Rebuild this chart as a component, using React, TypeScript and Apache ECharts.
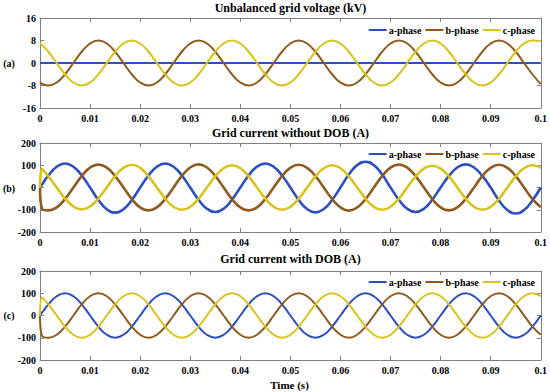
import React, { useEffect, useRef } from "react";
import * as echarts from "echarts";

// sample times (s)
const T = [
  0, 0.0004, 0.00167, 0.00333, 0.005, 0.00667, 0.00833, 0.01, 0.01167, 0.01333, 0.015, 0.01667, 0.01833, 0.02,
  0.02167, 0.02333, 0.025, 0.02667, 0.02833, 0.03, 0.03167, 0.03333, 0.035, 0.03667, 0.03833, 0.04,
  0.04167, 0.04333, 0.045, 0.04667, 0.04833, 0.05, 0.05167, 0.05333, 0.055, 0.05667, 0.05833, 0.06,
  0.06167, 0.06333, 0.065, 0.06667, 0.06833, 0.07, 0.07167, 0.07333, 0.075, 0.07667, 0.07833, 0.08,
  0.08167, 0.08333, 0.085, 0.08667, 0.08833, 0.09, 0.09167, 0.09333, 0.095, 0.09667, 0.09833, 0.1,
];

const X_TICKS = ["0", "0.01", "0.02", "0.03", "0.04", "0.05", "0.06", "0.07", "0.08", "0.09", "0.1"];
const TITLES = ["Unbalanced grid voltage (kV)", "Grid current without DOB (A)", "Grid current with DOB (A)"];
const PANEL_LABELS = ["(a)", "(b)", "(c)"];
const PHASES = ["a-phase", "b-phase", "c-phase"];

// (a) Unbalanced grid voltage (kV)
const VOLT_A = [
  0, 0,
  0, 0, 0, 0, 0, 0, 0, 0, 0, 0, 0, 0,
  0, 0, 0, 0, 0, 0, 0, 0, 0, 0, 0, 0,
  0, 0, 0, 0, 0, 0, 0, 0, 0, 0, 0, 0,
  0, 0, 0, 0, 0, 0, 0, 0, 0, 0, 0, 0,
  0, 0, 0, 0, 0, 0, 0, 0, 0, 0, 0, 0,
];
const VOLT_B = [
  -6.93, -7.38,
  -8, -6.93, -4, 0, 4, 6.93, 8, 6.93, 4, 0, -4, -6.93,
  -8, -6.93, -4, 0, 4, 6.93, 8, 6.93, 4, 0, -4, -6.93,
  -8, -6.93, -4, 0, 4, 6.93, 8, 6.93, 4, 0, -4, -6.93,
  -8, -6.93, -4, 0, 4, 6.93, 8, 6.93, 4, 0, -4, -6.93,
  -8, -6.93, -4, 0, 4, 6.93, 8, 6.93, 4, 0, -4, -7.5,
];
const VOLT_C = [
  6.93, 6.37,
  4, 0, -4, -6.93, -8, -6.93, -4, 0, 4, 6.93, 8, 6.93,
  4, 0, -4, -6.93, -8, -6.93, -4, 0, 4, 6.93, 8, 6.93,
  4, 0, -4, -6.93, -8, -6.93, -4, 0, 4, 6.93, 8, 6.93,
  4, 0, -4, -6.93, -8, -6.93, -4, 0, 4, 6.93, 8, 6.93,
  4, 0, -4, -6.93, -8, -6.93, -4, 0, 4, 6.93, 8, 7.8,
];

// (b) Grid current without DOB (A)
const CUR1_A = [
  0, 13,
  54, 93.5, 108, 93.5, 54, 0, -56.5, -97.9, -113, -97.9, -56.5, 0,
  54, 93.5, 108, 93.5, 54, 0, -55, -95.3, -110, -95.3, -55, 0,
  54, 93.5, 108, 93.5, 54, 0, -56, -97, -112, -97, -56, 0,
  58, 100.5, 116, 100.5, 58, 0, -55, -95.3, -110, -95.3, -55, 0,
  52, 90, 104, 90, 52, 0, -58.5, -101.3, -117, -101.3, -58.5, 0,
];
const CUR1_B = [
  0, -95,
  -103, -89.2, -51.5, 0, 51.5, 89.2, 103, 89.2, 51.5, 0, -51.5, -89.2,
  -103, -89.2, -51.5, 0, 52, 90, 104, 90, 52, 0, -51.5, -89.2,
  -103, -89.2, -51.5, 0, 51, 88.3, 102, 88.3, 51, 0, -51.5, -89.2,
  -104, -90, -52, 0, 51.5, 89.2, 103, 89.2, 51.5, 0, -51.5, -89.2,
  -103, -89.2, -51.5, 0, 51, 88.3, 102, 88.3, 51, 0, -51.5, -89.2,
];
const CUR1_C = [
  0, 83,
  50, 0, -49, -84.9, -98, -84.9, -49, 0, 51, 88.3, 102, 88.3,
  50, 0, -50, -86.6, -100, -86.6, -50, 0, 50, 86.6, 100, 86.6,
  50, 0, -50, -86.6, -100, -86.6, -50, 0, 50, 86.6, 100, 86.6,
  50, 0, -50, -86.6, -100, -86.6, -50, 0, 49, 84.9, 98, 84.9,
  50, 0, -50, -86.6, -100, -86.6, -50, 0, 50, 86.6, 100, 88,
];

// (c) Grid current with DOB (A)
const CUR2_A = [
  0, 12.5,
  50, 86.6, 100, 86.6, 50, 0, -50, -86.6, -100, -86.6, -50, 0,
  50, 86.6, 100, 86.6, 50, 0, -50, -86.6, -100, -86.6, -50, 0,
  50, 86.6, 100, 86.6, 50, 0, -50, -86.6, -100, -86.6, -50, 0,
  50, 86.6, 100, 86.6, 50, 0, -50, -86.6, -100, -86.6, -50, 0,
  50, 86.6, 100, 86.6, 50, 0, -50, -86.6, -100, -86.6, -50, 0,
];
const CUR2_B = [
  0, -92,
  -100, -86.6, -50, 0, 50, 86.6, 100, 86.6, 50, 0, -50, -86.6,
  -100, -86.6, -50, 0, 50, 86.6, 100, 86.6, 50, 0, -50, -86.6,
  -100, -86.6, -50, 0, 50, 86.6, 100, 86.6, 50, 0, -50, -86.6,
  -100, -86.6, -50, 0, 50, 86.6, 100, 86.6, 50, 0, -50, -86.6,
  -100, -86.6, -50, 0, 50, 86.6, 100, 86.6, 50, 0, -50, -86.6,
];
const CUR2_C = [
  0, 80,
  50, 0, -50, -86.6, -100, -86.6, -50, 0, 50, 86.6, 100, 86.6,
  50, 0, -50, -86.6, -100, -86.6, -50, 0, 50, 86.6, 100, 86.6,
  50, 0, -50, -86.6, -100, -86.6, -50, 0, 50, 86.6, 100, 86.6,
  50, 0, -50, -86.6, -100, -86.6, -50, 0, 50, 86.6, 100, 86.6,
  50, 0, -50, -86.6, -100, -86.6, -50, 0, 50, 86.6, 100, 86.6,
];

const Y_RANGES = [
  { min: -16, max: 16, interval: 8 },
  { min: -200, max: 200, interval: 100 },
  { min: -200, max: 200, interval: 100 },
];

const PANELS = [
  [VOLT_A, VOLT_B, VOLT_C],
  [CUR1_A, CUR1_B, CUR1_C],
  [CUR2_A, CUR2_B, CUR2_C],
];

const COLORS = ["#2d4fbf", "#8f5a1e", "#d8c21c"];
const FONT = "Liberation Serif";

export default function App() {
  const ref = useRef<HTMLDivElement>(null);
  useEffect(() => {
    if (!ref.current) return;
    const chart = echarts.init(ref.current, null, { renderer: "svg" });
    const gridTops = [18, 143, 271];
    const gridHeight = [90, 89, 89];
    const legendTops = [25, 149, 277];
    const titleYs = [8, 133, 259];
    const labelYs = [63, 188, 315];
    const axisColor = "#808080";
    const labelStyle = { color: "#000", fontFamily: FONT, fontWeight: "bold" as const, fontSize: 10 };

    const grids: any[] = [];
    const xAxes: any[] = [];
    const yAxes: any[] = [];
    const series: any[] = [];
    const legends: any[] = [];
    const graphics: any[] = [];

    for (let i = 0; i < 3; i++) {
      grids.push({ left: 40, right: 9, top: gridTops[i], height: gridHeight[i] });
      const xBase = {
        gridIndex: i,
        type: "value",
        min: 0,
        max: 0.1,
        interval: 0.01,
        splitLine: { show: false },
        axisLine: { show: true, onZero: false, lineStyle: { color: axisColor, width: 1 } },
        axisTick: { show: true, inside: true, length: 4, lineStyle: { color: axisColor } },
      };
      xAxes.push({
        ...xBase,
        position: "bottom",
        axisLabel: {
          ...labelStyle,
          margin: 5,
          formatter: (v: number) => X_TICKS[Math.round(v * 100)] ?? "",
        },
      });
      xAxes.push({ ...xBase, position: "top", axisLabel: { show: false } });
      const yBase = {
        gridIndex: i,
        type: "value",
        ...Y_RANGES[i],
        splitLine: { show: false },
        axisLine: { show: true, onZero: false, lineStyle: { color: axisColor, width: 1 } },
        axisTick: { show: true, inside: true, length: 4, lineStyle: { color: axisColor } },
      };
      yAxes.push({ ...yBase, position: "left", axisLabel: { ...labelStyle, margin: 4 } });
      yAxes.push({ ...yBase, position: "right", axisLabel: { show: false } });

      PANELS[i].forEach((vals, j) => {
        series.push({
          type: "line",
          name: PHASES[j],
          xAxisIndex: 2 * i,
          yAxisIndex: 2 * i,
          data: T.map((t, k) => [t, vals[k]]),
          smooth: 0.5,
          showSymbol: false,
          symbol: "none",
          lineStyle: { color: COLORS[j], width: i === 1 ? 2.6 : 2 },
          itemStyle: { color: COLORS[j] },
          z: 2 + j,
        });
      });

      legends.push({
        data: PHASES,
        top: legendTops[i],
        right: 15,
        icon: "rect",
        itemWidth: 18,
        itemHeight: 2,
        itemGap: 4,
        padding: 0,
        textStyle: { ...labelStyle, fontSize: 10, padding: [0, 0, 0, -3] },
      });

      graphics.push({
        type: "text",
        x: 290.5,
        y: titleYs[i],
        style: {
          text: TITLES[i],
          fontFamily: FONT,
          fontWeight: "bold",
          fontSize: 12,
          fill: "#000",
          textAlign: "center",
          textVerticalAlign: "middle",
        },
      });
      graphics.push({
        type: "text",
        x: 9,
        y: labelYs[i],
        style: {
          text: PANEL_LABELS[i],
          fontFamily: FONT,
          fontWeight: "bold",
          fontSize: 10,
          fill: "#000",
          textAlign: "center",
          textVerticalAlign: "middle",
        },
      });
    }
    graphics.push({
      type: "text",
      x: 289.5,
      y: 385,
      style: {
        text: "Time (s)",
        fontFamily: FONT,
        fontWeight: "bold",
        fontSize: 11,
        fill: "#000",
        textAlign: "center",
        textVerticalAlign: "middle",
      },
    });

    chart.setOption({
      animation: false,
      backgroundColor: "#fff",
      grid: grids,
      xAxis: xAxes,
      yAxis: yAxes,
      legend: legends,
      series,
      graphic: graphics,
    });
    return () => chart.dispose();
  }, []);
  return <div ref={ref} style={{ width: 550, height: 392, position: "absolute", left: 0, top: 0 }} />;
}
